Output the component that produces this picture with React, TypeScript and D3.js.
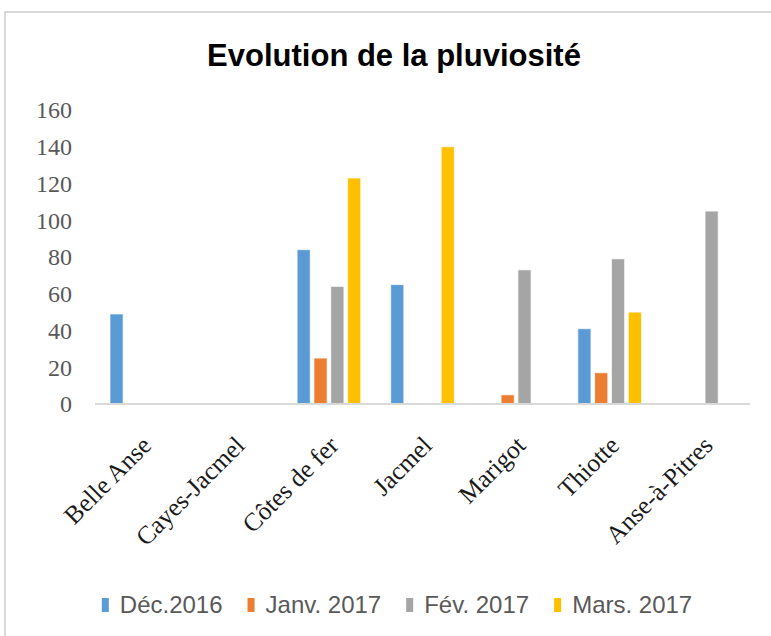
import React from "react";
import * as d3 from "d3";

const W = 771;
const H = 636;

const communes = [
  "Belle Anse",
  "Cayes-Jacmel",
  "Côtes de fer",
  "Jacmel",
  "Marigot",
  "Thiotte",
  "Anse-à-Pitres"
];
const seriesNames = ["Déc.2016", "Janv. 2017", "Fév. 2017", "Mars. 2017"];
const seriesColors = ["#5B9BD5", "#ED7D31", "#A5A5A5", "#FFC000"];

// null = no bar drawn for that month
const dec2016 = [49, null, 84, 65, null, 41, null];
const janv2017 = [null, null, 25, null, 5, 17, null];
const fev2017 = [null, null, 64, null, 73, 79, 105];
const mars2017 = [null, null, 123, 140, null, 50, null];
const yTicks = [0, 20, 40, 60, 80, 100, 120, 140, 160];

const seriesValues = [dec2016, janv2017, fev2017, mars2017];

const margin = { left: 95, right: 21, top: 110, bottom: 232 };
const serif = "'Liberation Serif', 'Times New Roman', serif";
const sans = "'Liberation Sans', Arial, sans-serif";

function measure(text: string, font: string) {
  const ctx = document.createElement("canvas").getContext("2d");
  if (!ctx) return text.length * 11;
  ctx.font = font;
  return ctx.measureText(text).width;
}

export default function App() {
  const x0 = d3
    .scaleBand<string>()
    .domain(communes)
    .range([margin.left, W - margin.right])
    .paddingInner(0.32)
    .paddingOuter(0.16);

  const x1 = d3
    .scaleBand<string>()
    .domain(seriesNames)
    .range([0, x0.bandwidth()])
    .paddingInner(0.22);

  const y = d3
    .scaleLinear()
    .domain([0, 160])
    .range([H - margin.bottom, margin.top]);

  // legend layout: marker, gap, label, gap
  const legendFont = `24px ${sans}`;
  const widths = seriesNames.map(s => measure(s, legendFont));
  const itemW = widths.map(w => 7 + 11 + w + 25);
  const total = d3.sum(itemW) - 25;
  let cursor = 397 - total / 2;
  const legendX = itemW.map(w => {
    const cur = cursor;
    cursor += w;
    return cur;
  });

  return (
    <svg
      width={W}
      height={H}
      style={{ position: "fixed", left: 0, top: 0, background: "#fff" }}
    >
      <rect x={0} y={0} width={W} height={H} fill="#fff" />
      <rect
        x={5}
        y={12}
        width={W + 20}
        height={H + 20}
        fill="#fff"
        stroke="#d9d9d9"
        strokeWidth={2}
      />
      <text
        x={394}
        y={66}
        textAnchor="middle"
        fontFamily={sans}
        fontWeight="bold"
        fontSize={31}
        fill="#000"
      >
        Evolution de la pluviosité
      </text>

      {yTicks.map(t => (
        <text
          key={t}
          x={72}
          y={y(t)}
          dy="0.35em"
          textAnchor="end"
          fontFamily={serif}
          fontSize={24}
          fill="#595959"
        >
          {t}
        </text>
      ))}

      {communes.map((c, i) => (
        <g key={c} transform={`translate(${x0(c)},0)`}>
          {seriesNames.map((s, j) => {
            const v = seriesValues[j][i];
            if (v == null) return null;
            return (
              <rect
                key={s}
                x={x1(s)}
                y={y(v)}
                width={x1.bandwidth()}
                height={y(0) - y(v)}
                fill={seriesColors[j]}
                stroke="#ffffff"
                strokeOpacity={0.7}
                strokeWidth={1}
              />
            );
          })}
        </g>
      ))}

      <line
        x1={margin.left}
        x2={W - margin.right}
        y1={y(0)}
        y2={y(0)}
        stroke="#d9d9d9"
        strokeWidth={2}
      />

      {communes.map(c => {
        const cx = (x0(c) || 0) + x0.bandwidth() / 2;
        return (
          <text
            key={c}
            transform={`translate(${cx + 11},${y(0) + 43}) rotate(-45)`}
            textAnchor="end"
            fontFamily={serif}
            fontSize={25.5}
            fill="#1a1a1a"
          >
            {c}
          </text>
        );
      })}

      {seriesNames.map((s, j) => (
        <g key={s} transform={`translate(${legendX[j]},0)`}>
          <rect x={0} y={598} width={7} height={14} fill={seriesColors[j]} />
          <text
            x={18}
            y={613}
            fontFamily={sans}
            fontSize={24}
            fill="#595959"
          >
            {s}
          </text>
        </g>
      ))}
    </svg>
  );
}
